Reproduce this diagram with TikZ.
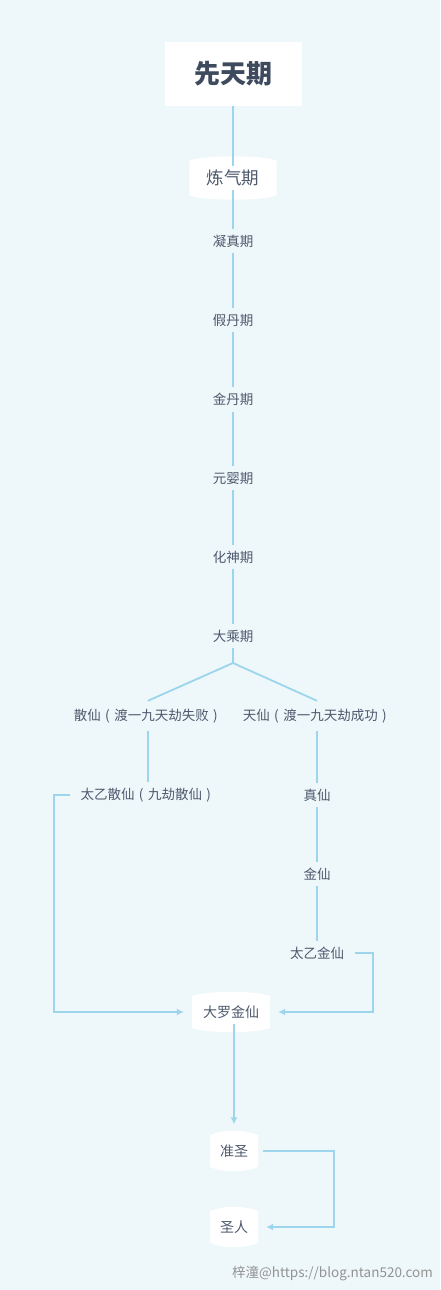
\documentclass[tikz,border=0pt]{standalone}
\usepackage{fontspec}
\setmainfont{Noto Sans CJK SC}
\usetikzlibrary{arrows.meta,backgrounds}
\definecolor{bgc}{HTML}{EEF7FA}
\definecolor{lnc}{HTML}{9DD6EC}
\definecolor{txc}{HTML}{4E596D}
\definecolor{hdc}{HTML}{3E4B5F}
\tikzset{
  lbl/.style={text=txc, font=\fontsize{13.5}{16}\selectfont, inner sep=6pt},
  barrel/.style={text=txc, inner sep=0pt},
  conn/.style={draw=lnc, line width=1.8pt},
  arr/.style={conn, -{Latex[length=7pt,width=7pt]}},
}
\newcommand{\barrelfill}[1]{%
  \fill[white] (#1.north west) .. controls +(12,-6) and +(-12,-6) .. (#1.north east)
    -- (#1.south east) .. controls +(-12,6) and +(12,6) .. (#1.south west) -- cycle;}
\newcommand{\lp}{\makebox[1em]{(}}
\newcommand{\rp}{\makebox[1em]{)}}
\begin{document}
\begin{tikzpicture}[x=1pt,y=-1pt]
\useasboundingbox (0,0) rectangle (440,1290);
% header
\node[fill=white, minimum width=137pt, minimum height=63pt, text=hdc,
      font=\fontsize{26}{30}\selectfont\bfseries] (xt) at (233,74) {先天期};
\node[barrel, minimum width=87pt, minimum height=34pt, font=\fontsize{17.5}{20}\selectfont] (lq) at (233,178) {炼气期};
\node[lbl] (nz) at (233,241) {凝真期};
\node[lbl] (jd) at (233,320) {假丹期};
\node[lbl] (jin) at (233,399) {金丹期};
\node[lbl] (yy) at (233,478) {元婴期};
\node[lbl] (hs) at (233,557) {化神期};
\node[lbl] (dc) at (233,636) {大乘期};
\coordinate (br) at (233,663);
\node[lbl, inner sep=8pt] (sx) at (148,716) {散仙\lp 渡一九天劫失败\rp};
\node[lbl, inner sep=8pt] (tx) at (317,716) {天仙\lp 渡一九天劫成功\rp};
\node[lbl] (tysx) at (148,795) {太乙散仙\lp 九劫散仙\rp};
\node[lbl] (zx) at (317,795) {真仙};
\node[lbl] (jx) at (317,874) {金仙};
\node[lbl] (tyjx) at (317,953) {太乙金仙};
\node[barrel, minimum width=78pt, minimum height=31pt, font=\fontsize{14}{17}\selectfont] (dl) at (231,1012) {大罗金仙};
\node[barrel, minimum width=48pt, minimum height=31pt, font=\fontsize{14}{17}\selectfont] (zs) at (234,1151) {准圣};
\node[barrel, minimum width=48pt, minimum height=31pt, font=\fontsize{14}{17}\selectfont] (sr) at (234,1227) {圣人};
\node[text=gray!85, font=\fontsize{13.5}{15}\selectfont, anchor=east, inner sep=0pt] (wm) at (433,1273) {梓潼@https://blog.ntan520.com};
\begin{scope}[on background layer]
  \fill[bgc] (0,0) rectangle (440,1290);
  \barrelfill{lq}
  \barrelfill{dl}
  \barrelfill{zs}
  \barrelfill{sr}
\end{scope}
% connectors
\draw[conn] (xt.south) -- ([yshift=-5pt]lq.north);
\draw[conn] ([yshift=5pt]lq.south) -- (nz.north);
\draw[conn] (nz) -- (jd);
\draw[conn] (jd) -- (jin);
\draw[conn] (jin) -- (yy);
\draw[conn] (yy) -- (hs);
\draw[conn] (hs) -- (dc);
\draw[conn] (dc.south) -- (br);
\draw[conn] (br) -- (sx.north);
\draw[conn] (br) -- (tx.north);
\draw[conn] (sx.south) -- (tysx.north);
\draw[conn] (tx.south) -- (zx.north);
\draw[conn] (zx) -- (jx);
\draw[conn] (jx) -- (tyjx);
\draw[arr, shorten >=8pt] ([xshift=-4pt]tysx.west) -| (54,1012) -- (dl.west);
\draw[arr, shorten >=8pt] ([xshift=5pt]tyjx.east) -| (373,1012) -- (dl.east);
\draw[arr, shorten >=11pt] ([yshift=4pt]dl.south -| zs.north) -- (zs.north);
\draw[arr, shorten >=8pt] ([xshift=5pt]zs.east) -| (334,1227) -- (sr.east);
\end{tikzpicture}
\end{document}
